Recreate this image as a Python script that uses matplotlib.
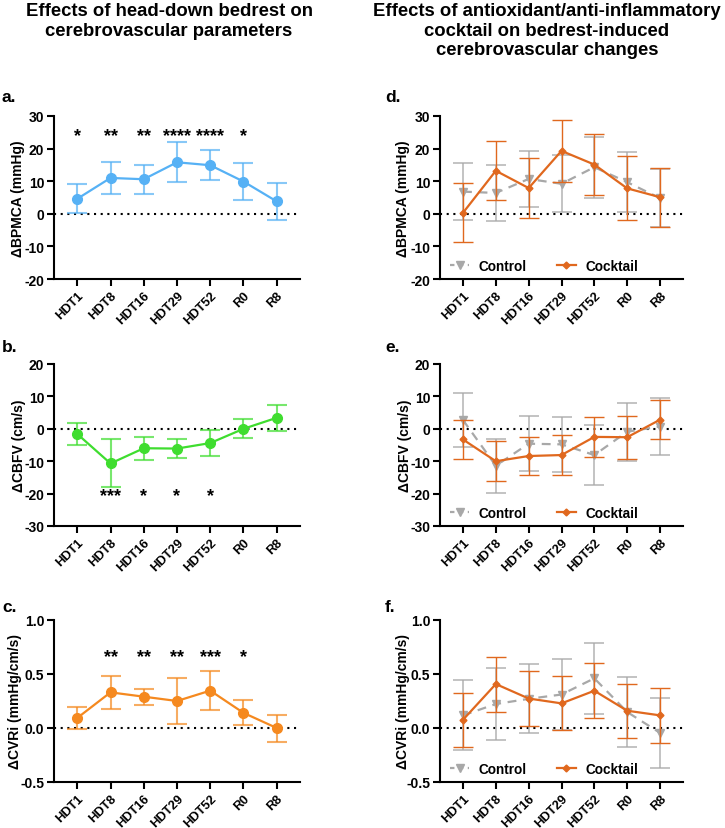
import numpy as np
import matplotlib
matplotlib.use("Agg")
import matplotlib.pyplot as plt
from matplotlib.lines import Line2D
from matplotlib.colors import to_rgba

plt.rcParams['font.family'] = ['Liberation Sans', 'DejaVu Sans']
plt.rcParams['font.weight'] = 'bold'

days = ["HDT1", "HDT8", "HDT16", "HDT29", "HDT52", "R0", "R8"]

# left column: mean and SD
bpmca_mean = [4.6, 11.0, 10.6, 15.8, 14.9, 9.9, 3.8]
bpmca_sd = [4.5, 4.8, 4.5, 6.1, 4.6, 5.8, 5.6]
bpmca_stars = ["*", "**", "**", "****", "****", "*", ""]

cbfv_mean = [-1.6, -10.7, -6.0, -6.1, -4.4, 0.0, 3.4]
cbfv_sd = [3.3, 7.4, 3.5, 2.8, 3.9, 2.9, 4.0]
cbfv_stars = ["", "***", "*", "*", "*", "", ""]

cvri_mean = [0.093, 0.33, 0.29, 0.25, 0.346, 0.14, 0.0]
cvri_sd = [0.105, 0.15, 0.074, 0.21, 0.182, 0.115, 0.125]
cvri_stars = ["", "**", "**", "**", "***", "*", ""]

# right column: control vs cocktail
bpmca_ctrl = [6.8, 6.4, 10.7, 9.2, 14.3, 9.7, 4.8]
bpmca_ctrl_sd = [8.8, 8.6, 8.6, 8.7, 9.4, 9.2, 9.0]
bpmca_cock = [0.3, 13.2, 7.9, 19.3, 15.1, 7.8, 5.1]
bpmca_cock_sd = [9.0, 9.0, 9.1, 9.5, 9.4, 9.8, 9.0]

cbfv_ctrl = [2.7, -11.4, -4.6, -4.8, -8.1, -0.9, 0.7]
cbfv_ctrl_sd = [8.4, 8.4, 8.5, 8.5, 9.2, 8.9, 8.7]
cbfv_cock = [-3.3, -10.0, -8.4, -8.1, -2.5, -2.6, 2.8]
cbfv_cock_sd = [5.9, 6.1, 6.0, 6.2, 6.2, 6.7, 6.1]

cvri_ctrl = [0.117, 0.222, 0.27, 0.31, 0.46, 0.148, -0.045]
cvri_ctrl_sd = [0.325, 0.33, 0.32, 0.33, 0.33, 0.32, 0.325]
cvri_cock = [0.076, 0.407, 0.273, 0.228, 0.345, 0.16, 0.117]
cvri_cock_sd = [0.25, 0.255, 0.258, 0.25, 0.255, 0.25, 0.255]

BLUE = "#56B1F5"
GREEN = "#3FDD2F"
ORANGE = "#F5891F"
DORANGE = "#E0681E"
GRAY = "#A8A8A8"

W, H = 725, 829
fig = plt.figure(figsize=(W / 100, H / 100), dpi=100)


def add_ax(left, right, top, bottom):
    return fig.add_axes([left / W, 1 - bottom / H, (right - left) / W, (bottom - top) / H])


def style_ax(ax, ylim, yticks, ylabel, label_x, fmt="{:.0f}"):
    x = np.arange(len(days))
    ax.axhline(0, color="black", ls=(0, (1, 2.2)), lw=1.5, zorder=1)
    ax.set_xlim(-0.7, 6.7)
    ax.set_ylim(*ylim)
    ax.set_yticks(yticks)
    ax.set_yticklabels([fmt.format(t) for t in yticks])
    ax.set_xticks(x)
    ax.set_xticklabels(days, rotation=45, ha="right", rotation_mode="anchor")
    ax.spines[["top", "right"]].set_visible(False)
    ax.spines[["left", "bottom"]].set_linewidth(1.5)
    ax.tick_params(width=1.5, length=5, pad=2)
    ax.tick_params(axis="y", labelsize=10)
    ax.tick_params(axis="x", labelsize=9.2)
    ax.set_ylabel(ylabel, fontsize=10, fontweight="bold")
    # label_x is the pixel column of the label's right edge
    pos = ax.get_position()
    ax.yaxis.set_label_coords((label_x / W - pos.x0) / pos.width, 0.5)


def single(ax, mean, sd, color, stars, star_y):
    x = np.arange(len(days))
    ax.errorbar(x, mean, yerr=sd, color=color, ecolor=to_rgba(color, 0.7), elinewidth=1.5,
                capsize=7, capthick=1.5, lw=1.6, marker="o", ms=7, zorder=3)
    for xi, s in zip(x, stars):
        if s:
            ax.text(xi, star_y, s, ha="center", va="center", fontsize=13, fontweight="bold")


def double(ax, ctrl, ctrl_sd, cock, cock_sd):
    x = np.arange(len(days))
    ax.errorbar(x, ctrl, yerr=ctrl_sd, color=GRAY, ecolor=to_rgba(GRAY, 0.75), elinewidth=1.3,
                capsize=7, capthick=1.3, lw=1.6, ls=(0, (4, 3)), marker="v", ms=6, zorder=3)
    ax.errorbar(x, cock, yerr=cock_sd, color=DORANGE, ecolor=DORANGE, elinewidth=1.0,
                capsize=7, capthick=1.0, lw=1.6, marker="D", ms=3.5, zorder=4)
    handles = [Line2D([], [], color=GRAY, ls=(0, (2, 2)), lw=1.6, marker="v", ms=6),
               Line2D([], [], color=DORANGE, lw=1.6, marker="D", ms=3.5)]
    ax.legend(handles, ["Control", "Cocktail"], ncol=2, frameon=False, loc="center left",
              bbox_to_anchor=(10 / 243, 13 / 163), fontsize=9.8, handlelength=1.4,
              columnspacing=2.2, handletextpad=0.7, borderpad=0, borderaxespad=0)


Lx = (54, 300)
Rx = (440, 683)
rows = [(117, 280), (365, 527), (621, 783)]

ax_a = add_ax(Lx[0], Lx[1], *rows[0])
style_ax(ax_a, (-20, 30), [-20, -10, 0, 10, 20, 30], "ΔBPMCA (mmHg)", 25)
single(ax_a, bpmca_mean, bpmca_sd, BLUE, bpmca_stars, 24)

ax_b = add_ax(Lx[0], Lx[1], *rows[1])
style_ax(ax_b, (-30, 20), [-30, -20, -10, 0, 10, 20], "ΔCBFV (cm/s)", 26)
single(ax_b, cbfv_mean, cbfv_sd, GREEN, cbfv_stars, -20.7)

ax_c = add_ax(Lx[0], Lx[1], *rows[2])
style_ax(ax_c, (-0.5, 1.0), [-0.5, 0.0, 0.5, 1.0], "ΔCVRi (mmHg/cm/s)", 22, "{:.1f}")
single(ax_c, cvri_mean, cvri_sd, ORANGE, cvri_stars, 0.66)

ax_d = add_ax(Rx[0], Rx[1], *rows[0])
style_ax(ax_d, (-20, 30), [-20, -10, 0, 10, 20, 30], "ΔBPMCA (mmHg)", 410)
double(ax_d, bpmca_ctrl, bpmca_ctrl_sd, bpmca_cock, bpmca_cock_sd)

ax_e = add_ax(Rx[0], Rx[1], *rows[1])
style_ax(ax_e, (-30, 20), [-30, -20, -10, 0, 10, 20], "ΔCBFV (cm/s)", 412)
double(ax_e, cbfv_ctrl, cbfv_ctrl_sd, cbfv_cock, cbfv_cock_sd)

ax_f = add_ax(Rx[0], Rx[1], *rows[2])
style_ax(ax_f, (-0.5, 1.0), [-0.5, 0.0, 0.5, 1.0], "ΔCVRi (mmHg/cm/s)", 410, "{:.1f}")
double(ax_f, cvri_ctrl, cvri_ctrl_sd, cvri_cock, cvri_cock_sd)

# titles and panel letters
fig.text(169 / W, 1 - 3 / H, "Effects of head-down bedrest on\ncerebrovascular parameters",
         ha="center", va="top", fontsize=13.3, fontweight="bold", linespacing=1.2)
fig.text(547 / W, 1 - 3 / H, "Effects of antioxidant/anti-inflammatory\ncocktail on bedrest-induced\ncerebrovascular changes",
         ha="center", va="top", fontsize=13.3, fontweight="bold", linespacing=1.2)
for lab, (x0, y0) in {"a.": (2, 102), "b.": (2, 352), "c.": (2, 612),
                      "d.": (385, 102), "e.": (385, 352), "f.": (385, 612)}.items():
    fig.text(x0 / W, 1 - y0 / H, lab, ha="left", va="baseline", fontsize=12.5, fontweight="bold")

fig.savefig("out.png", dpi=100)
